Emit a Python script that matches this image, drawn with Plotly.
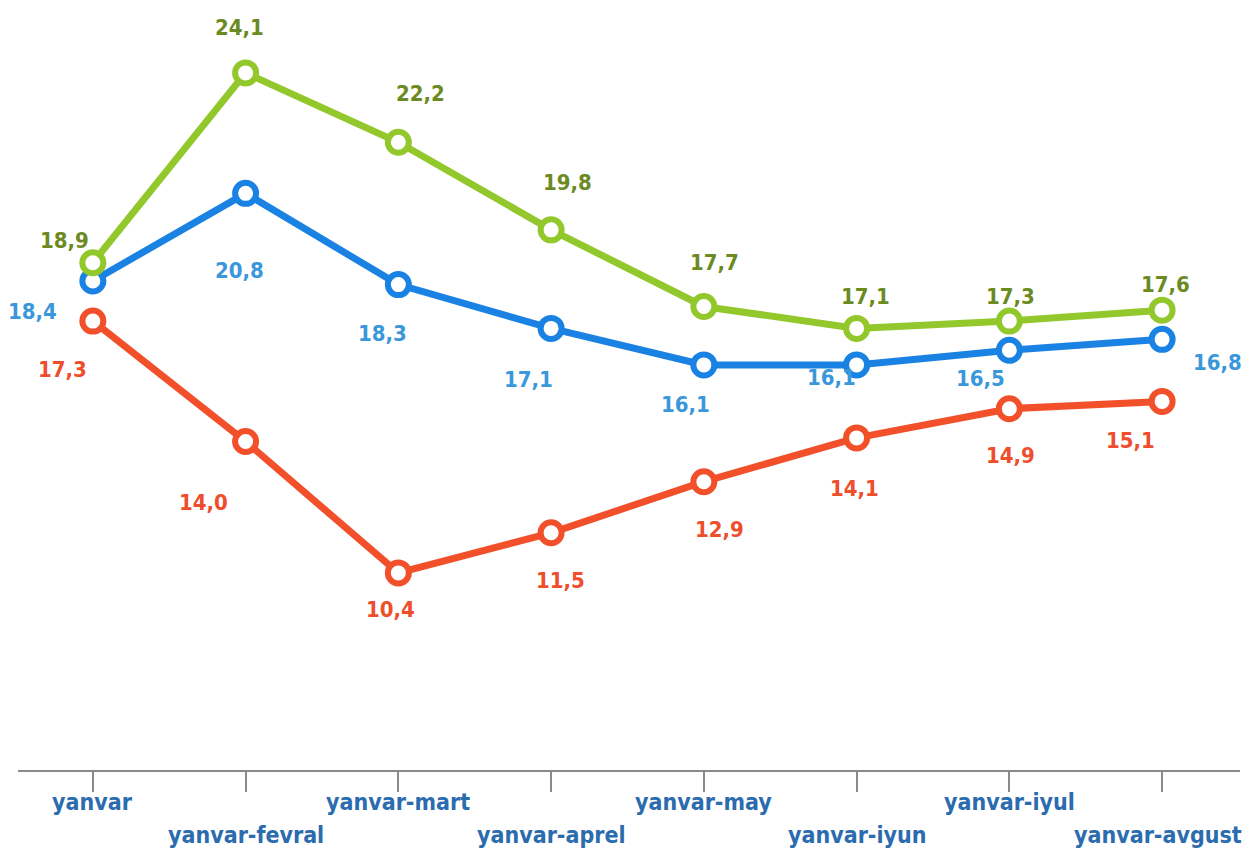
import plotly.graph_objects as go

categories = ["yanvar", "yanvar-fevral", "yanvar-mart", "yanvar-aprel",
              "yanvar-may", "yanvar-iyun", "yanvar-iyul", "yanvar-avgust"]
green_vals = [18.9, 24.1, 22.2, 19.8, 17.7, 17.1, 17.3, 17.6]
blue_vals = [18.4, 20.8, 18.3, 17.1, 16.1, 16.1, 16.5, 16.8]
red_vals = [17.3, 14.0, 10.4, 11.5, 12.9, 14.1, 14.9, 15.1]

# label offsets in pixels (dx, dy) relative to the marker
green_off = [(-28, 22), (-6, 45), (22, 49), (16, 47), (11, 44), (9, 32), (1, 25), (3, 26)]
blue_off = [(-60, -31), (-6, -77), (-16, -49), (-23, -51), (-18, -40), (-25, -13), (-29, -28), (55, -23)]
red_off = [(-30, -48), (-42, -61), (-8, -37), (9, -48), (16, -48), (-2, -51), (1, -47), (-32, -39)]

FONT = "Liberation Sans Narrow, DejaVu Sans Condensed, Roboto, sans-serif"

series = [
    ("blue", blue_vals, "#1A82E2", "#3A98DA", blue_off),
    ("red", red_vals, "#F2502A", "#EE4E2C", red_off),
    ("green", green_vals, "#93C82C", "#6B8A22", green_off),
]

xs = list(range(len(categories)))
fig = go.Figure()
annotations = []
for name, vals, lc, tc, offs in series:
    fig.add_trace(go.Scatter(
        x=xs, y=vals, mode="lines+markers", name=name,
        line=dict(color=lc, width=7),
        marker=dict(symbol="circle", size=21, color="white",
                    line=dict(color=lc, width=6)),
        showlegend=False, cliponaxis=False,
    ))
    for i, v in enumerate(vals):
        dx, dy = offs[i]
        annotations.append(dict(
            x=xs[i], y=v, xref="x", yref="y",
            text="<b>" + f"{v:.1f}".replace(".", ",") + "</b>", showarrow=False,
            xshift=dx, yshift=dy,
            font=dict(family=FONT, size=22, color=tc),
        ))

for i, c in enumerate(categories):
    annotations.append(dict(
        x=xs[i], y=0, xref="x", yref="paper",
        text=f"<b>{c}</b>", showarrow=False, yanchor="middle",
        yshift=-32 if i % 2 == 0 else -65,
        xshift=-4 if i == len(categories) - 1 else 0,
        font=dict(family=FONT, size=23, color="#2A6CAE"),
    ))

fig.update_layout(
    width=1243, height=844,
    margin=dict(l=10, r=11, t=12, b=82),
    paper_bgcolor="white", plot_bgcolor="white",
    annotations=annotations,
    xaxis=dict(range=[-0.49, 7.51], tickvals=xs, showticklabels=False,
               ticks="outside", ticklen=20, tickwidth=2, tickcolor="#8A8A8A",
               showline=True, linecolor="#8A8A8A", linewidth=2,
               showgrid=False, zeroline=False),
    yaxis=dict(range=[5, 25.55], visible=False, showgrid=False, zeroline=False),
)
fig.write_html("out.html")
